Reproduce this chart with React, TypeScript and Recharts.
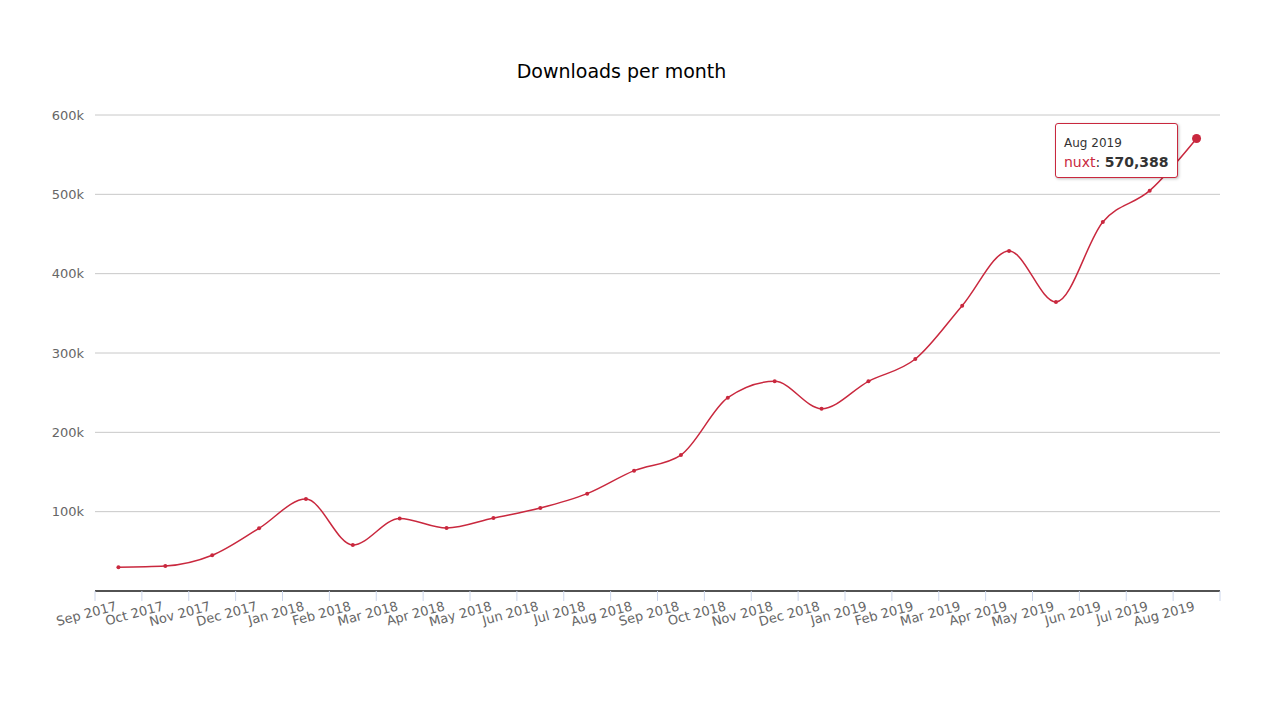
import React from "react";
import { LineChart, Line, XAxis, YAxis, CartesianGrid, Tooltip } from "recharts";

const months = [
  "Sep 2017", "Oct 2017", "Nov 2017", "Dec 2017", "Jan 2018", "Feb 2018",
  "Mar 2018", "Apr 2018", "May 2018", "Jun 2018", "Jul 2018", "Aug 2018",
  "Sep 2018", "Oct 2018", "Nov 2018", "Dec 2018", "Jan 2019", "Feb 2019",
  "Mar 2019", "Apr 2019", "May 2019", "Jun 2019", "Jul 2019", "Aug 2019",
];

const downloads = [
  30000, 31500, 45000, 79000, 116000, 58000,
  91500, 79500, 92000, 104600, 122700, 151700,
  171400, 243700, 264300, 229800, 264300, 292400,
  359600, 428600, 364300, 465100, 504600, 570388,
];

const yTicks = [100000, 200000, 300000, 400000, 500000, 600000];

const COLOR = "#c9283e";
const FONT = "'DejaVu Sans', sans-serif";
const WIDTH = 1285;
const HEIGHT = 709;
const PLOT_LEFT = 95;
const PLOT_RIGHT = 1220;
const BAND = (PLOT_RIGHT - PLOT_LEFT) / months.length;

const data = months.map((month, i) => ({ month, nuxt: downloads[i] }));

function MonthTick(props: any) {
  const { x, y, payload, index } = props;
  const last = index === months.length - 1;
  const tx = x - 1;
  const ty = y + 19;
  return (
    <g>
      <line x1={x - BAND / 2} y1={y} x2={x - BAND / 2} y2={y + 10} stroke="#ccd6eb" />
      {last && <line x1={x + BAND / 2} y1={y} x2={x + BAND / 2} y2={y + 10} stroke="#ccd6eb" />}
      <text
        x={tx}
        y={ty}
        textAnchor="end"
        transform={`rotate(-15, ${tx}, ${ty})`}
        fontSize={13}
        fill="#666"
        fontFamily={FONT}
      >
        {payload.value}
      </text>
    </g>
  );
}

function TipBox({ active, payload, label }: any) {
  if (!active || !payload || !payload.length) return null;
  return (
    <div
      style={{
        background: "#fff",
        border: `1px solid ${COLOR}`,
        borderRadius: 3,
        padding: "10px 9px 5px 8px",
        boxShadow: "1px 1px 3px rgba(0,0,0,0.25)",
        fontFamily: FONT,
        color: "#333",
        whiteSpace: "nowrap",
      }}
    >
      <div style={{ fontSize: 12, lineHeight: "18px" }}>{label}</div>
      <div style={{ fontSize: 14, lineHeight: "20px" }}>
        <span style={{ color: COLOR }}>nuxt</span>: <b>{payload[0].value.toLocaleString("en-US")}</b>
      </div>
    </div>
  );
}

export default function App() {
  return (
    <div style={{ position: "absolute", left: 0, top: 0, width: WIDTH, height: HEIGHT, background: "#fff" }}>
      <div
        style={{
          position: "absolute",
          left: 0,
          top: 62,
          width: 1243,
          textAlign: "center",
          fontFamily: FONT,
          fontSize: 19,
          lineHeight: 1,
          color: "#000",
        }}
      >
        Downloads per month
      </div>
      <LineChart
        width={WIDTH}
        height={HEIGHT}
        data={data}
        margin={{ top: 115, right: WIDTH - PLOT_RIGHT, bottom: 58, left: PLOT_LEFT - 60 }}
      >
        <CartesianGrid vertical={false} stroke="#c8c8c8" />
        <XAxis
          dataKey="month"
          interval={0}
          height={60}
          padding={{ left: BAND / 2, right: BAND / 2 }}
          tickLine={false}
          tickSize={0}
          tickMargin={0}
          axisLine={{ stroke: "#222", strokeWidth: 1.5 }}
          tick={<MonthTick />}
        />
        <YAxis
          width={60}
          domain={[0, 600000]}
          ticks={yTicks}
          axisLine={false}
          tickLine={false}
          tickSize={0}
          tickMargin={11}
          tick={{ fontSize: 13, fill: "#666", fontFamily: FONT }}
          tickFormatter={(v: number) => `${v / 1000}k`}
        />
        <Tooltip
          content={<TipBox />}
          cursor={false}
          defaultIndex={23}
          position={{ x: 1055, y: 123 }}
          isAnimationActive={false}
        />
        <Line
          type="monotone"
          dataKey="nuxt"
          stroke={COLOR}
          strokeWidth={1.5}
          dot={{ r: 2, fill: COLOR, stroke: "none" }}
          activeDot={{ r: 4.5, fill: COLOR, stroke: "none" }}
          isAnimationActive={false}
        />
      </LineChart>
    </div>
  );
}
